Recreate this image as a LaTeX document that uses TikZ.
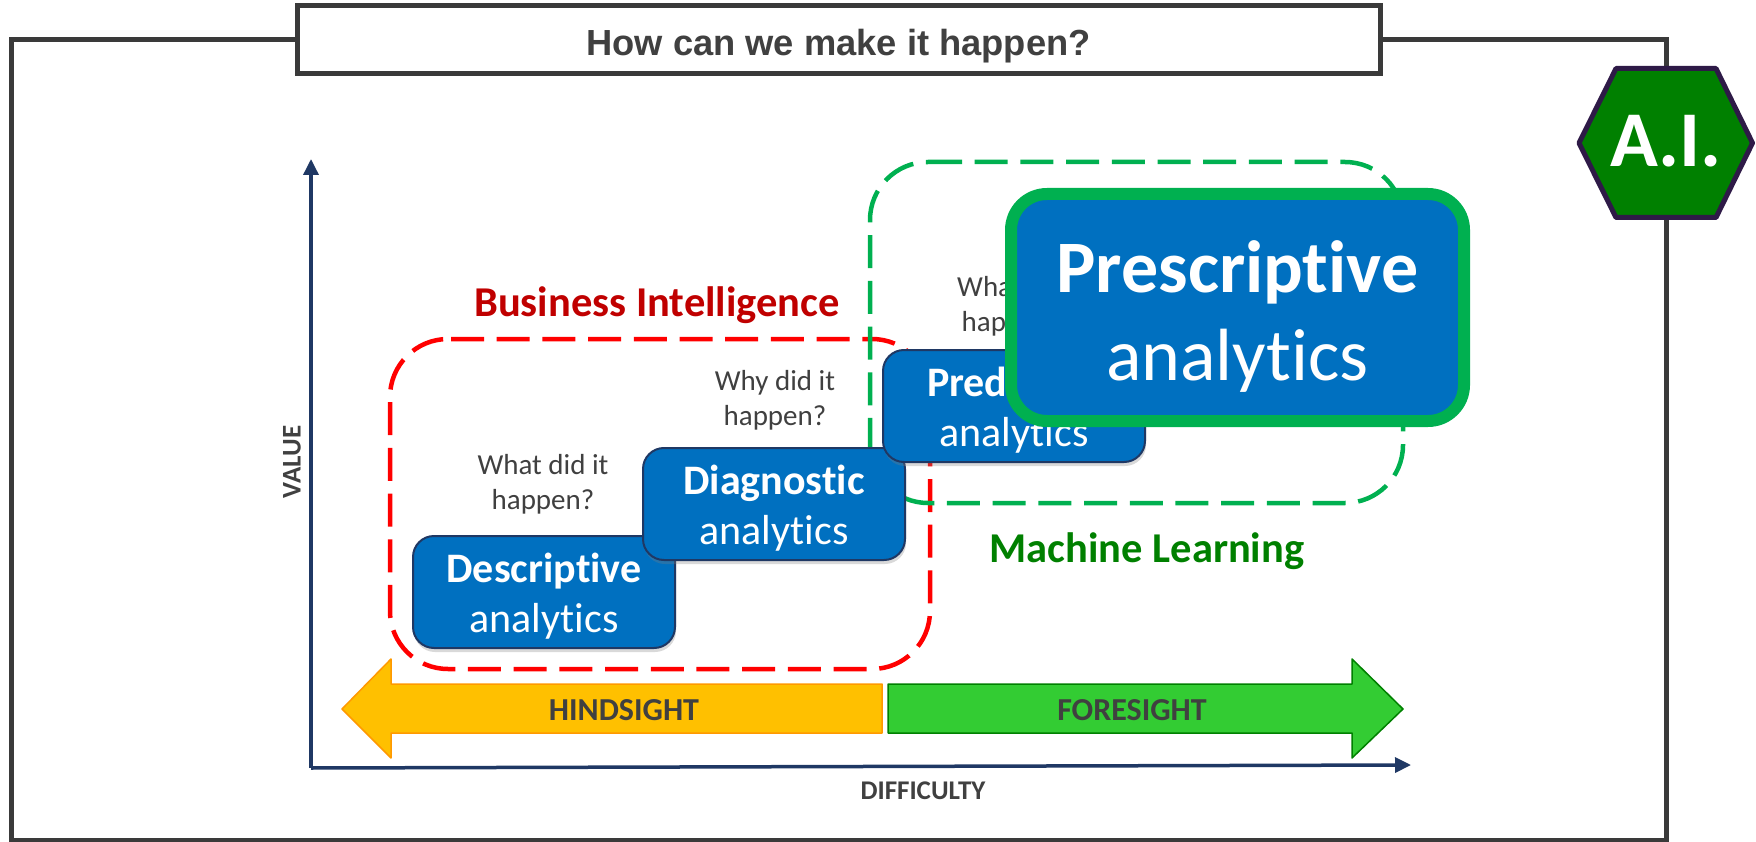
\documentclass[tikz,border=0pt]{standalone}
\usepackage{fontspec}
\setmainfont{Carlito}[Ligatures=NoCommon]
\newfontfamily\titlefont{Liberation Sans}
\usetikzlibrary{calc,arrows.meta,positioning,shadows}

\definecolor{framegray}{HTML}{3A3A3A}
\definecolor{textgray}{HTML}{404040}
\definecolor{boxblue}{HTML}{0070C0}
\definecolor{boxedge}{HTML}{1F3864}
\definecolor{mlgreen}{HTML}{00B050}
\definecolor{aigreen}{HTML}{008000}
\definecolor{hexedge}{HTML}{2E1A47}
\definecolor{birred}{HTML}{C00000}
\definecolor{hindfill}{HTML}{FFC000}
\definecolor{hindedge}{HTML}{FF9900}
\definecolor{forefill}{HTML}{33CC33}

\tikzset{
	stepbox/.style={draw=boxedge, line width=2pt, fill=boxblue, rounded corners=21pt, minimum width=262pt, minimum height=112pt,
		inner sep=0pt, align=center, text=white, font=\fontsize{42}{50}\selectfont,
		drop shadow={shadow xshift=1pt, shadow yshift=-4pt, opacity=0.3}},
	question/.style={align=center, text=textgray, font=\fontsize{29}{35}\selectfont},
	axislabel/.style={text=textgray, font=\fontsize{27}{30}\selectfont\bfseries},
	sightlabel/.style={text=textgray, font=\fontsize{32}{36}\selectfont\bfseries},
	grouplabel/.style={font=\fontsize{42.5}{50}\selectfont\bfseries},
	groupline/.style={line width=4.5pt, dash pattern=on 33pt off 12.7pt, rounded corners=58pt},
	axisline/.style={boxedge, line width=3.5pt, -{Triangle[length=16pt, width=15pt]}}
}

\begin{document}
\begin{tikzpicture}[x=1pt, y=-1pt]
	\useasboundingbox (0,0) rectangle (1756,842);

	% --- Frame and title ---
	\draw[framegray, line width=5pt] (11,40) rectangle (1666,840);
	\node[draw=framegray, line width=5pt, fill=white, minimum width=1083pt, minimum height=68pt, inner sep=0pt,
		text=textgray, font=\titlefont\fontsize{36.3}{42}\selectfont\bfseries] (title) at (838.5,40) {\rule{0pt}{1.05em}How can we make it happen?};

	% --- A.I. badge ---
	\draw[hexedge, line width=5pt, line join=round, fill=aigreen]
	(1579,143) -- (1616,68.5) -- (1716,68.5) -- (1752.5,143) -- (1716,217.5) -- (1616,217.5) -- cycle;
	\node[text=white, font=\fontsize{79}{90}\selectfont\bfseries] (badge) at (1666,141) {A.I.};

	% --- Axes ---
	\coordinate (origin) at (311,768);
	\coordinate (valueend) at (311,159);
	\coordinate (diffend) at (1411,765);
	\draw[axisline] (origin) -- (valueend);
	\draw[axisline] (origin) -- (diffend);
	\node[axislabel, rotate=90] (valuelabel) at (292,462) {VALUE};
	\node[axislabel] (difflabel) at (923,791) {DIFFICULTY};

	% --- Dashed groups ---
	\draw[groupline, red] (451,339) -- (930,339) -- (930,669) -- (390,669) -- (390,339) -- (451,339);
	\draw[groupline, mlgreen] (929,162) -- (1403,162) -- (1403,503) -- (870,503) -- (870,162) -- (929,162);
	\node[grouplabel, text=birred] (bilabel) at (657,305) {Business Intelligence};
	\node[grouplabel, text=aigreen] (mllabel) at (1147,551) {Machine Learning};

	% --- Hindsight / foresight ---
	\draw[draw=hindedge, line width=1.5pt, fill=hindfill, line join=round]
	(882,684) -- (391,684) -- (391,659) -- (342,709) -- (391,758) -- (391,733) -- (882,733) -- cycle;
	\draw[draw=aigreen, line width=1.5pt, fill=forefill, line join=round]
	(888,684) -- (1352,684) -- (1352,659) -- (1403,709) -- (1352,758) -- (1352,733) -- (888,733) -- cycle;
	\node[sightlabel] (hindlabel) at (624,710) {HINDSIGHT};
	\node[sightlabel] (forelabel) at (1132,710) {FORESIGHT};

	% --- Questions ---
	\node[question] (qwhat) at (543,484) {What did it\\happen?};
	\node[question] (qwhy) at (775,400) {Why did it\\happen?};
	\node[question] (qwill) at (1013,306) {What will\\happen?};

	% --- Steps ---
	\foreach \name/\xc/\yc/\word in {descriptive/544/592/Descriptive, diagnostic/774/504/Diagnostic, predictive/1014/406/Predictive} {
			\node[stepbox] (\name) at (\xc,\yc) {\rule{0pt}{0.88em}\textbf{\word}\\analytics};
		}

	\node[stepbox, draw=mlgreen, line width=12pt, rounded corners=36pt, minimum width=453pt, minimum height=227pt,
		font=\fontsize{74}{88}\selectfont] (prescriptive) at (1237.5,307.5) {\rule{0pt}{0.94em}\textbf{Prescriptive}\\analytics};

\end{tikzpicture}
\end{document}
